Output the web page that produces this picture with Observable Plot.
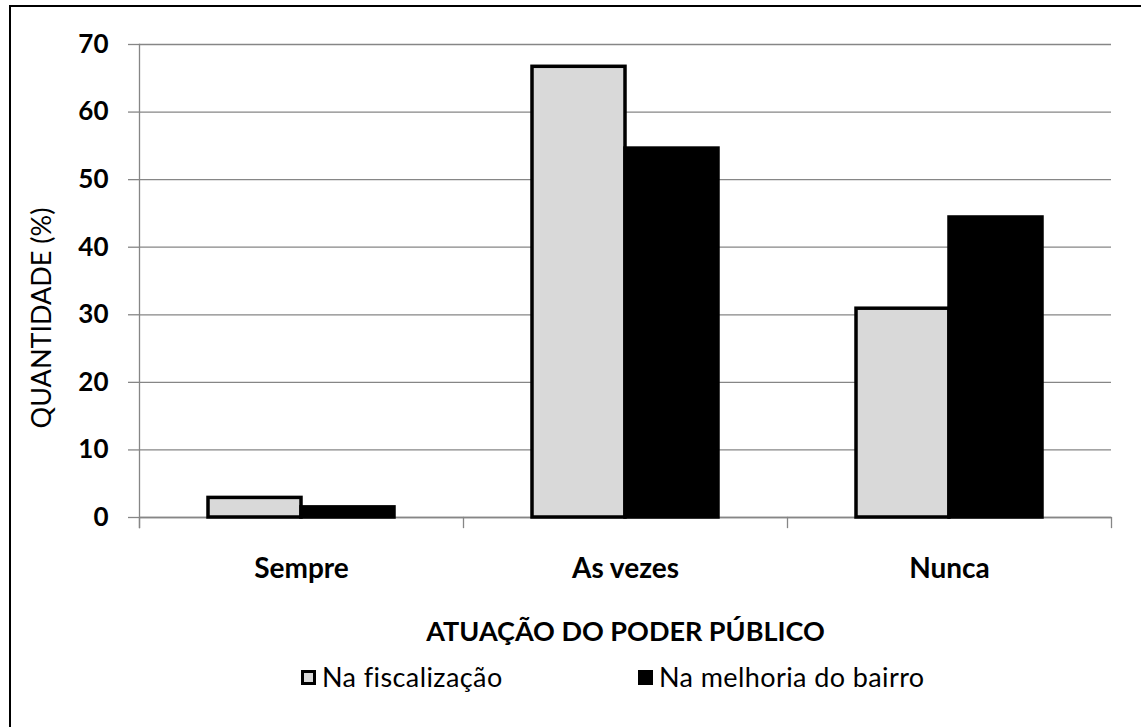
<!DOCTYPE html>
<html>
<head>
<meta charset="utf-8">
<script src="https://cdn.jsdelivr.net/npm/d3@7"></script>
<script src="https://cdn.jsdelivr.net/npm/@observablehq/plot@0.6"></script>
<style>
  html, body { margin: 0; padding: 0; background: #fff; }
  #wrap { position: relative; width: 1141px; height: 727px; overflow: hidden; background: #fff; font-family: Lato, "Open Sans", sans-serif; }
  #border { position: absolute; left: 9px; top: 5px; width: 3000px; height: 3000px; border-left: 2px solid #000; border-top: 2px solid #000; }
  #chart { position: absolute; left: 0; top: 0; }
  #xtitle { position: absolute; left: 0; width: 1251px; top: 615px; text-align: center; font-size: 27px; font-weight: bold; line-height: 32px; color: #000; }
  .leg { position: absolute; top: 661px; font-size: 27px; letter-spacing: 0.4px; line-height: 32px; color: #000; white-space: nowrap; }
  .sw { position: absolute; top: 9px; width: 15px; height: 15px; box-sizing: border-box; border: 3px solid #000; }
</style>
</head>
<body>
<div id="wrap">
  <div id="border"></div>
  <div id="chart"></div>
  <div id="xtitle"></div>
  <div id="legend"></div>
</div>
<script>
// ---- data ----
const categories = ["Sempre", "As vezes", "Nunca"];
const series = ["Na fiscalização", "Na melhoria do bairro"];
const valuesFiscalizacao = [2.9, 66.7, 30.9];
const valuesMelhoria = [1.5, 54.6, 44.4];
const yTicks = [0, 10, 20, 30, 40, 50, 60, 70];
const seriesColors = ["#d9d9d9", "#000000"];
const yTitle = "QUANTIDADE (%)";
const xTitle = "ATUAÇÃO DO PODER PÚBLICO";

const table = [];
categories.forEach((c, i) => {
  table.push({category: c, series: series[0], value: valuesFiscalizacao[i]});
  table.push({category: c, series: series[1], value: valuesMelhoria[i]});
});

const W = 1141, H = 600, mT = 44, mB = 83, mL = 139, mR = 30;
const plotH = H - mT - mB;
const gridColor = "#868686";

const chart = Plot.plot({
  width: W, height: H,
  marginTop: mT, marginBottom: mB, marginLeft: mL, marginRight: mR,
  style: {fontFamily: "Lato, 'Open Sans', sans-serif", background: "transparent", color: "#000"},
  fx: {domain: categories, padding: 0, label: null, axis: null},
  x: {domain: series, paddingInner: 0, paddingOuter: 0.74, axis: null},
  y: {domain: [0, 70], ticks: yTicks, axis: null},
  color: {domain: series, range: seriesColors},
  marks: [
    Plot.gridY(yTicks, {stroke: gridColor, strokeOpacity: 1, strokeWidth: 1.3}),
    Plot.axisY(yTicks, {tickSize: 11, stroke: gridColor, strokeOpacity: 1, strokeWidth: 1.3, text: null, label: null}),
    Plot.axisY(yTicks, {tickSize: 0, tickPadding: 31, fontSize: 26, fontWeight: "bold", label: null}),
    Plot.text([yTitle], {frameAnchor: "left", facetAnchor: "left", textAnchor: "middle", rotate: -90, dx: -97, dy: 37, fontSize: 27, fill: "#000"}),
    Plot.axisFx({anchor: "bottom", tickSize: 0, tickPadding: 41, fontSize: 28, fontWeight: "bold", label: null}),
    Plot.frame({anchor: "left", facetAnchor: "left", stroke: gridColor, strokeWidth: 1.3, insetBottom: -10}),
    Plot.frame({anchor: "left", stroke: gridColor, strokeWidth: 1.3, insetTop: plotH, insetBottom: -10}),
    Plot.frame({anchor: "right", facetAnchor: "right", stroke: gridColor, strokeWidth: 1.3, insetTop: plotH, insetBottom: -10}),
    Plot.ruleY([0], {stroke: gridColor, strokeWidth: 1.3}),
    Plot.barY(table, {fx: "category", x: "series", y: "value", fill: "series", stroke: "#000", strokeWidth: 3.5})
  ]
});
document.getElementById("chart").appendChild(chart);

document.getElementById("xtitle").textContent = xTitle;
const legend = document.getElementById("legend");
const legendLeft = [301, 638];
series.forEach((s, i) => {
  const item = document.createElement("div");
  item.className = "leg";
  item.style.left = legendLeft[i] + "px";
  const sw = document.createElement("span");
  sw.className = "sw";
  sw.style.left = "0px";
  sw.style.background = seriesColors[i];
  const tx = document.createElement("span");
  tx.style.marginLeft = "21px";
  tx.textContent = s;
  item.appendChild(sw);
  item.appendChild(tx);
  legend.appendChild(item);
});
</script>
</body>
</html>
